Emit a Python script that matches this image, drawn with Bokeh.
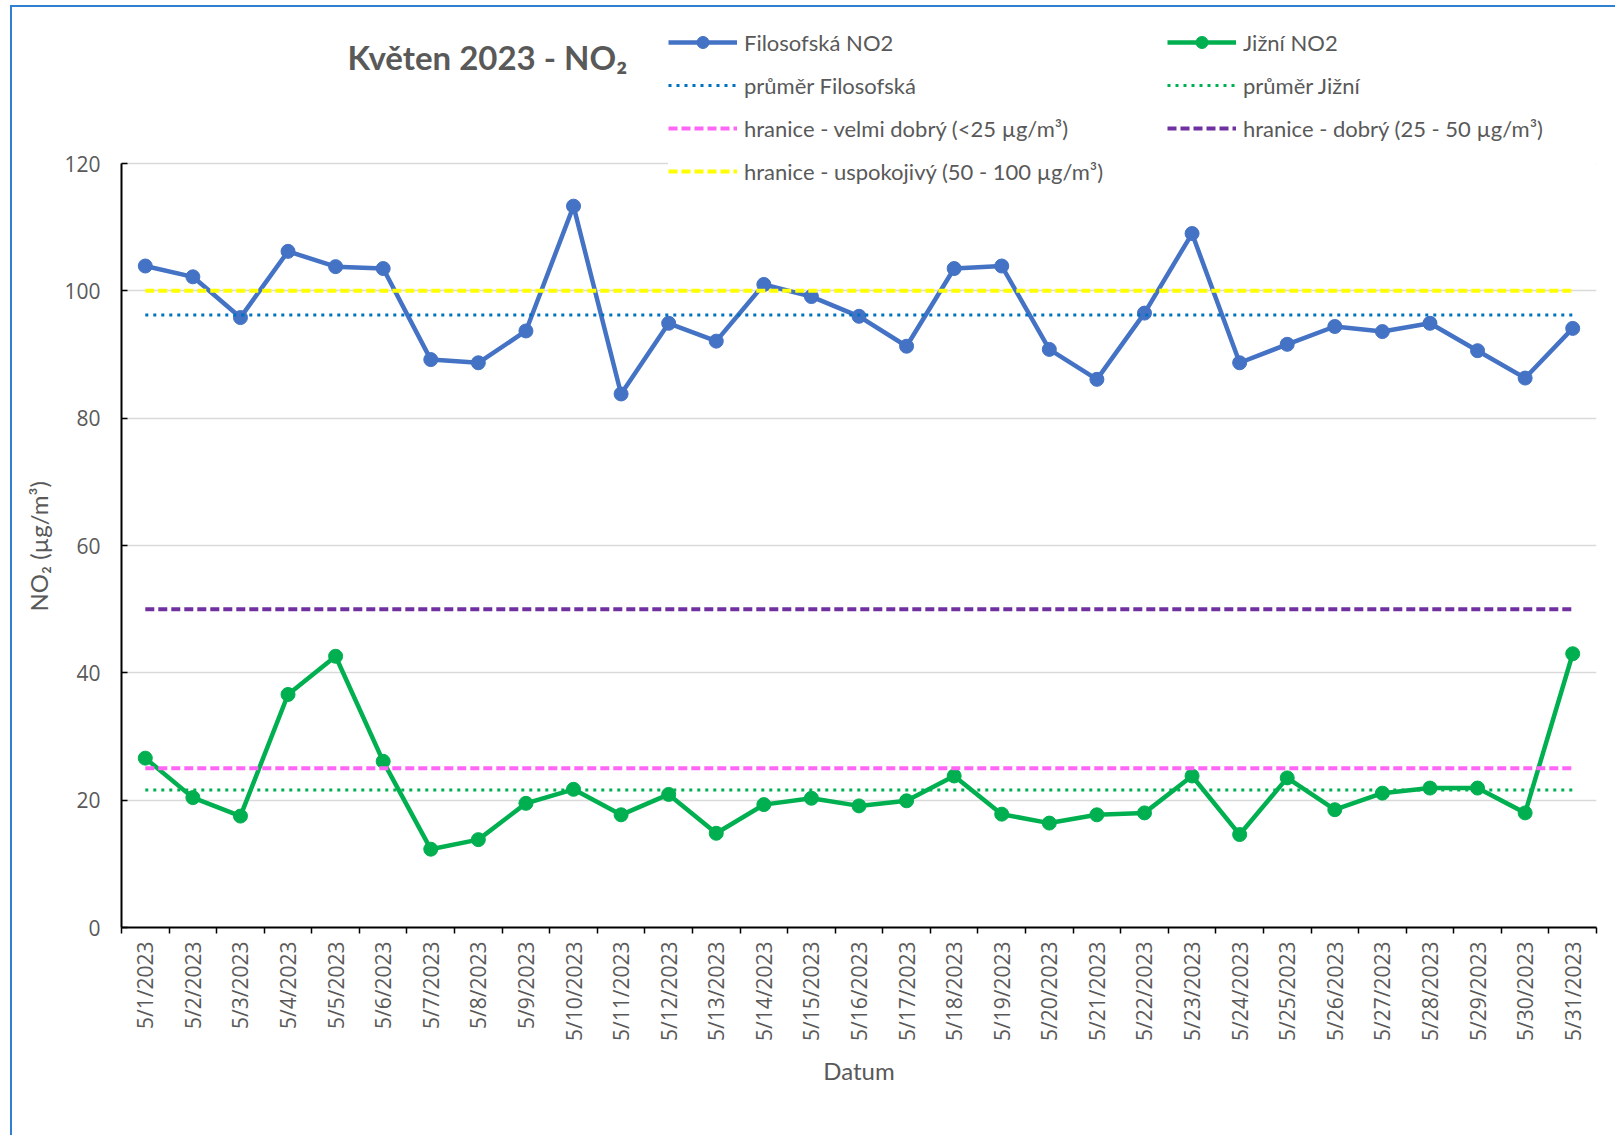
import numpy as np
from bokeh.plotting import figure
from bokeh.models import Range1d, FixedTicker, Legend, LegendItem, Label, Title
from bokeh.embed import file_html
from bokeh.resources import INLINE

# ---------------- data ----------------
dates = ["5/1/2023", "5/2/2023", "5/3/2023", "5/4/2023", "5/5/2023", "5/6/2023",
         "5/7/2023", "5/8/2023", "5/9/2023", "5/10/2023", "5/11/2023", "5/12/2023",
         "5/13/2023", "5/14/2023", "5/15/2023", "5/16/2023", "5/17/2023", "5/18/2023",
         "5/19/2023", "5/20/2023", "5/21/2023", "5/22/2023", "5/23/2023", "5/24/2023",
         "5/25/2023", "5/26/2023", "5/27/2023", "5/28/2023", "5/29/2023", "5/30/2023",
         "5/31/2023"]

filosofska_no2 = [103.9, 102.2, 95.8, 106.2, 103.8, 103.5, 89.2, 88.7, 93.7, 113.3,
                  83.8, 94.9, 92.1, 101.0, 99.1, 96.0, 91.3, 103.5, 103.9, 90.8,
                  86.1, 96.5, 109.0, 88.7, 91.6, 94.4, 93.6, 94.9, 90.6, 86.3, 94.1]

jizni_no2 = [26.6, 20.4, 17.5, 36.6, 42.6, 26.1, 12.3, 13.8, 19.5, 21.7,
             17.7, 20.9, 14.8, 19.3, 20.3, 19.1, 19.9, 23.8, 17.8, 16.4,
             17.7, 18.0, 23.8, 14.6, 23.5, 18.5, 21.1, 21.9, 21.9, 18.0, 43.0]

limit_velmi_dobry = 25
limit_dobry = 50
limit_uspokojivy = 100

y_ticks = [0, 20, 40, 60, 80, 100, 120]
y_axis_max = 120

# ---------------- derived ----------------
n = len(dates)
x = list(range(1, n + 1))
mean_filo = [float(np.mean(filosofska_no2))] * n
mean_jizni = [float(np.mean(jizni_no2))] * n
line_velmi = [limit_velmi_dobry] * n
line_dobry = [limit_dobry] * n
line_uspok = [limit_uspokojivy] * n

TXT = "#595959"

# the frame spans the full canvas height above the x axis; the y axis is
# bounded to 0..120 so that the legend/title area sits above it
FRAME_H = 920
PX_PER_UNIT = (FRAME_H - 156) / y_axis_max
y_top = FRAME_H / PX_PER_UNIT

p = figure(width=1605, height=1130, output_backend="svg", toolbar_location=None,
           x_range=Range1d(0.5, n + 0.5), y_range=Range1d(0, y_top),
           min_border_left=109, min_border_right=21,
           min_border_top=0, min_border_bottom=1130 - FRAME_H)
p.outline_line_color = None
p.background_fill_color = "white"
p.border_fill_color = "white"
p.styles = {"border-left": "2px solid #2F80D1", "border-top": "2px solid #2F80D1",
            "margin-left": "10px", "margin-top": "5px"}

# axes
xa = p.xaxis[0]
xa.ticker = FixedTicker(ticks=x, minor_ticks=[i + 0.5 for i in range(0, n + 1)])
xa.major_label_overrides = {i: d for i, d in zip(x, dates)}
xa.major_label_orientation = np.pi / 2
xa.major_tick_line_color = None
xa.major_tick_out = 0
xa.major_tick_in = 0
xa.minor_tick_out = 6
xa.minor_tick_in = 0
xa.minor_tick_line_color = "black"
xa.minor_tick_line_width = 1.5
xa.axis_line_color = "black"
xa.axis_line_width = 2
xa.major_label_standoff = 8
xa.major_label_text_font = "Open Sans"
xa.major_label_text_font_size = "21px"
xa.major_label_text_color = TXT
xa.axis_label = "Datum"
xa.axis_label_text_font = "Lato"
xa.axis_label_text_font_style = "normal"
xa.axis_label_text_font_size = "24px"
xa.axis_label_text_color = TXT
xa.axis_label_standoff = 12

ya = p.yaxis[0]
ya.bounds = (0, y_axis_max)
ya.ticker = FixedTicker(ticks=y_ticks, minor_ticks=[])
ya.major_tick_in = 6
ya.major_tick_out = 0
ya.major_tick_line_color = "black"
ya.major_tick_line_width = 1.5
ya.axis_line_color = "black"
ya.axis_line_width = 2
ya.major_label_standoff = 21
ya.major_label_text_font = "Open Sans"
ya.major_label_text_font_size = "21px"
ya.major_label_text_color = TXT

# y axis title as a side title so it can sit along the 0..120 axis span
y_title = Title(text="NO₂ (µg/m³)", align="left", offset=316, standoff=18,
                text_font="Lato", text_font_size="24px", text_font_style="normal",
                text_color=TXT)
p.add_layout(y_title, "left")

p.xgrid.visible = False
p.ygrid.grid_line_color = "#D9D9D9"
p.ygrid.grid_line_width = 1.5

# series
BLUE = "#4472C4"
GREEN = "#00B050"
r_f_line = p.line(x, filosofska_no2, line_color=BLUE, line_width=4.5, line_join="round")
r_f_pts = p.scatter(x, filosofska_no2, marker="circle", size=14, fill_color=BLUE, line_color=BLUE)
r_j_line = p.line(x, jizni_no2, line_color=GREEN, line_width=4.5, line_join="round")
r_j_pts = p.scatter(x, jizni_no2, marker="circle", size=14, fill_color=GREEN, line_color=GREEN)

r_mf = p.line(x, mean_filo, line_color="#0070C0", line_width=3, line_dash="3 5")
r_mj = p.line(x, mean_jizni, line_color="#00B050", line_width=3, line_dash="3 5")
r_v = p.line(x, line_velmi, line_color="#FF66F5", line_width=4, line_dash="9 4")
r_d = p.line(x, line_dobry, line_color="#7030A0", line_width=4, line_dash="9 4")
r_u = p.line(x, line_uspok, line_color="#FFFF00", line_width=4, line_dash="9 4")

items = [
    LegendItem(label="Filosofská NO2", renderers=[r_f_line, r_f_pts]),
    LegendItem(label="průměr Filosofská", renderers=[r_mf]),
    LegendItem(label="hranice - velmi dobrý (<25 µg/m³)", renderers=[r_v]),
    LegendItem(label="hranice - uspokojivý (50 - 100 µg/m³)", renderers=[r_u]),
    LegendItem(label="Jižní NO2", renderers=[r_j_line, r_j_pts]),
    LegendItem(label="průměr Jižní", renderers=[r_mj]),
    LegendItem(label="hranice - dobrý (25 - 50 µg/m³)", renderers=[r_d]),
]
legend = Legend(items=items, location=(547, 741), orientation="vertical", ncols=2,
                glyph_width=69, glyph_height=30, label_height=30, label_width=410,
                label_standoff=7, spacing=13, padding=30, margin=0,
                border_line_color=None, background_fill_color="white",
                background_fill_alpha=1.0,
                label_text_font="Lato", label_text_font_size="22px",
                label_text_color=TXT)
p.add_layout(legend)

title = Label(x=226, y=871, x_units="screen", y_units="screen",
              text="Květen 2023 - NO₂", text_font="Lato", text_font_size="33px",
              text_font_style="bold", text_color=TXT, text_baseline="alphabetic")
p.add_layout(title)

open("out.html", "w").write(file_html(p, INLINE))
